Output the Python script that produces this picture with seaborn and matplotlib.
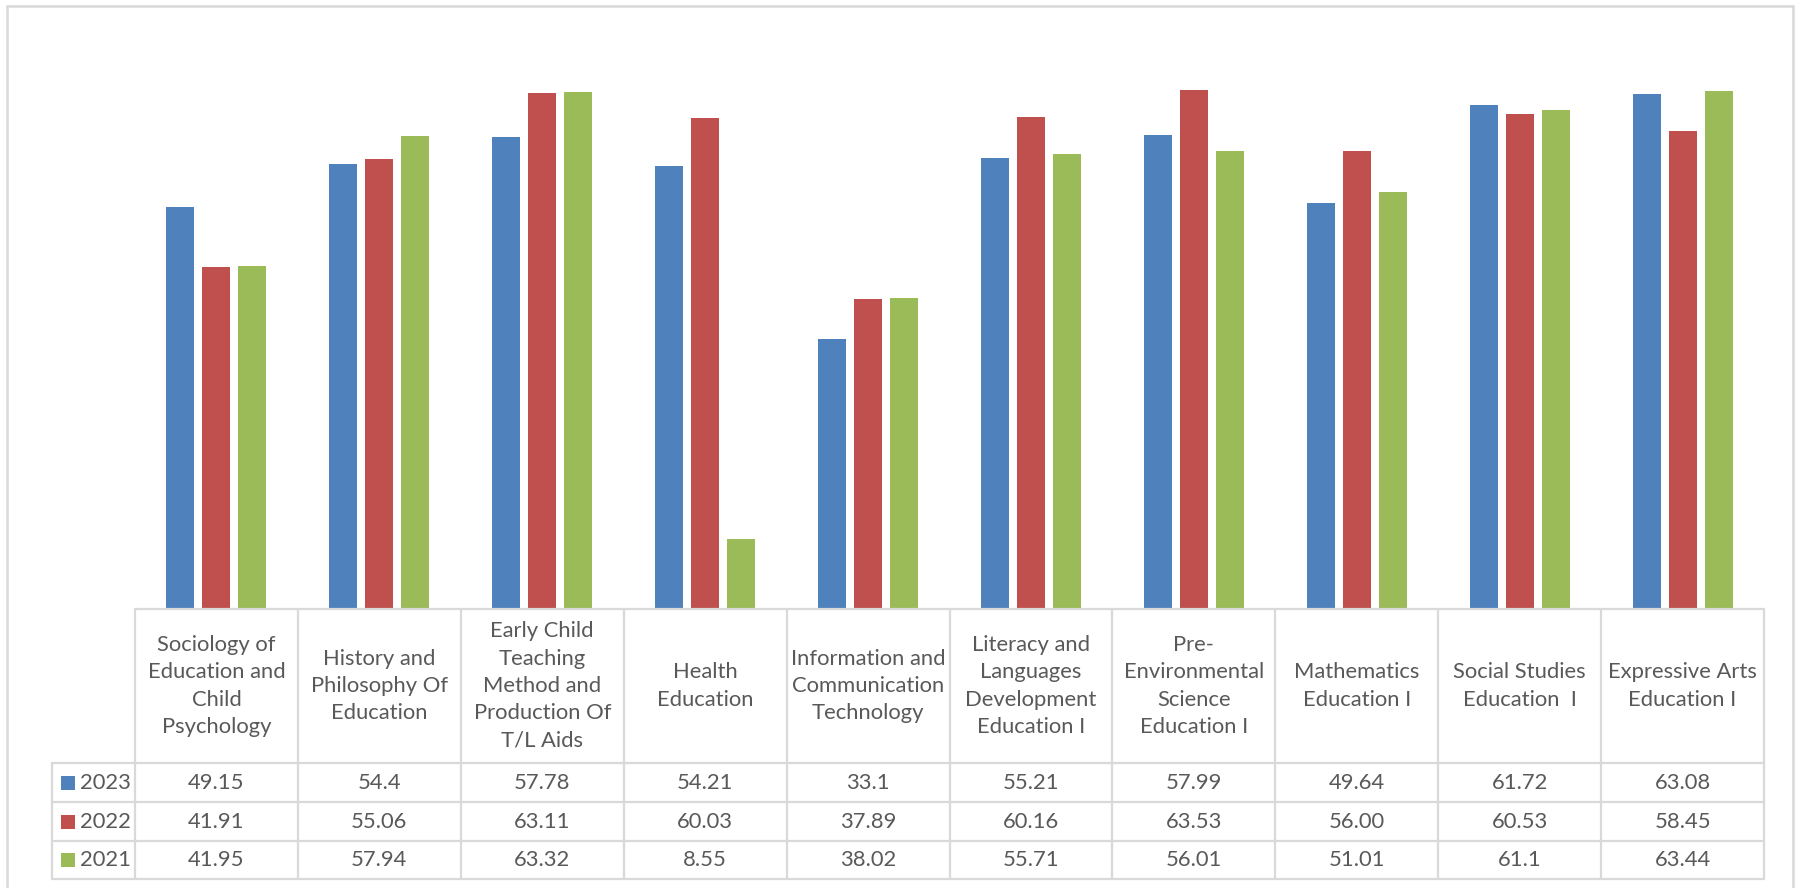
import matplotlib
matplotlib.use("Agg")
import matplotlib.pyplot as plt
import matplotlib.transforms as mtransforms
from matplotlib.lines import Line2D
from matplotlib.patches import Rectangle
import pandas as pd
import seaborn as sns

# ---- data -------------------------------------------------------------
subjects = [
    "Sociology of\nEducation and\nChild\nPsychology",
    "History and\nPhilosophy Of\nEducation",
    "Early Child\nTeaching\nMethod and\nProduction Of\nT/L Aids",
    "Health\nEducation",
    "Information and\nCommunication\nTechnology",
    "Literacy and\nLanguages\nDevelopment\nEducation I",
    "Pre-\nEnvironmental\nScience\nEducation I",
    "Mathematics\nEducation I",
    "Social Studies\nEducation  I",
    "Expressive Arts\nEducation I",
]
years = ["2023", "2022", "2021"]
scores_2023 = ["49.15", "54.4", "57.78", "54.21", "33.1", "55.21", "57.99", "49.64", "61.72", "63.08"]
scores_2022 = ["41.91", "55.06", "63.11", "60.03", "37.89", "60.16", "63.53", "56.00", "60.53", "58.45"]
scores_2021 = ["41.95", "57.94", "63.32", "8.55", "38.02", "55.71", "56.01", "51.01", "61.1", "63.44"]
colors = ["#4F81BD", "#C0504D", "#9BBB59"]

series = {"2023": scores_2023, "2022": scores_2022, "2021": scores_2021}
rows = []
for yr in years:
    for subj, txt in zip(subjects, series[yr]):
        rows.append({"subject": subj, "year": yr, "score": float(txt)})
df = pd.DataFrame(rows)

# ---- figure -----------------------------------------------------------
W, H = 1798, 888
sns.set_style("white")
plt.rcParams["font.family"] = ["Lato", "DejaVu Sans"]
fig = plt.figure(figsize=(W / 100, H / 100), dpi=100)
fig.patch.set_facecolor("white")

# plot area in pixel units
px_left, px_right, px_top, px_base = 135, 1764, 37, 609
ax = fig.add_axes([px_left / W, 1 - px_base / H,
                   (px_right - px_left) / W, (px_base - px_top) / H])

sns.barplot(data=df, x="subject", y="score", hue="year",
            order=subjects, hue_order=years, palette=colors, saturation=1,
            width=0.663, gap=0.22, linewidth=0, legend=False, ax=ax)
ax.set_xlim(-0.5, len(subjects) - 0.5)
ax.set_ylim(0, 70)
ax.set_axis_off()

# ---- data table below the bars ---------------------------------------
grid_col = "#D9D9D9"
txt_col = "#595959"
fs = 15.8

# x follows category positions, y in figure pixels (from top)
pix_y = mtransforms.Affine2D().scale(1, -1).translate(0, H) + \
    mtransforms.Affine2D().scale(1 / W, 1 / H) + fig.transFigure
trans = mtransforms.blended_transform_factory(ax.transData, pix_y)

col_w = (px_right - px_left) / len(subjects)
leg_left = -0.5 - (px_left - 52) / col_w
x_last = len(subjects) - 0.5
y_head_bot = 763
row_edges = [763, 802, 841, 879]


def hline(x0, x1, y):
    ax.add_line(Line2D([x0, x1], [y, y], transform=trans, color=grid_col,
                       lw=1.6, clip_on=False))


def vline(x, y0, y1):
    ax.add_line(Line2D([x, x], [y0, y1], transform=trans, color=grid_col,
                       lw=1.6, clip_on=False))


hline(-0.5, x_last, px_base)
for y in row_edges:
    hline(leg_left, x_last, y)
vline(leg_left, row_edges[0], row_edges[-1])
for i in range(len(subjects) + 1):
    vline(i - 0.5, px_base, row_edges[-1])

# header cells
for i, subj in enumerate(subjects):
    ax.text(i, (px_base + y_head_bot) / 2, subj, transform=trans,
            ha="center", va="center", fontsize=fs, color=txt_col,
            linespacing=1.46, clip_on=False)

# value rows with legend keys
key_trans_x = mtransforms.blended_transform_factory(
    mtransforms.Affine2D().scale(1 / W, 1) + fig.transFigure, pix_y)
for r, (yr, col) in enumerate(zip(years, colors)):
    yc = (row_edges[r] + row_edges[r + 1]) / 2
    ax.add_patch(Rectangle((61, yc - 7), 14, 14, transform=key_trans_x,
                           facecolor=col, edgecolor="none", clip_on=False))
    ax.text(80, yc, yr, transform=key_trans_x, ha="left", va="center",
            fontsize=fs, color=txt_col, clip_on=False)
    for i, txt in enumerate(series[yr]):
        ax.text(i, yc, txt, transform=trans, ha="center", va="center",
                fontsize=fs, color=txt_col, clip_on=False)

# outer chart frame
for xs, ys in [([7, 7], [6, 900]), ([7, 1793], [6, 6]), ([1793, 1793], [6, 900])]:
    fig.add_artist(Line2D([x / W for x in xs], [1 - y / H for y in ys],
                          transform=fig.transFigure, color=grid_col, lw=1.8))

fig.savefig("out.png", dpi=100, facecolor="white")
